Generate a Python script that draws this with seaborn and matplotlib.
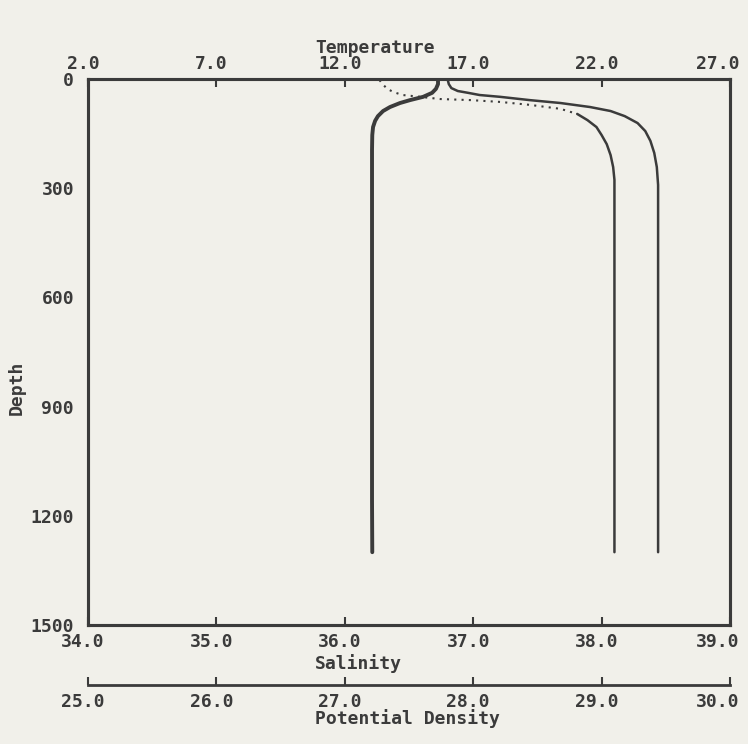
import matplotlib
matplotlib.use("Agg")
import matplotlib.pyplot as plt
import matplotlib.transforms as mtransforms
import seaborn as sns

# profile (depth in m)
temp_depth = [0, 14, 27, 38, 49, 58, 66, 77, 88, 102, 115, 132, 154, 195,
              332, 607, 882, 1157, 1300]
temperature = [15.63, 15.63, 15.55, 15.40, 15.05, 14.54, 14.15, 13.76, 13.49, 13.29,
               13.18, 13.10, 13.07, 13.06, 13.06, 13.06, 13.06, 13.06, 13.07]

sal_depth = [0, 14, 25, 33, 38, 44, 49, 58, 66, 77, 88, 102, 121, 143, 170, 203,
             242, 291, 387, 607, 882, 1157, 1300]
salinity = [36.80, 36.81, 36.83, 36.88, 36.96, 37.05, 37.21, 37.44, 37.68, 37.91,
            38.07, 38.18, 38.28, 38.34, 38.38, 38.41, 38.43, 38.44, 38.44, 38.44,
            38.44, 38.44, 38.44]

dens_depth_upper = [3, 16, 27, 36, 44, 49, 55, 58, 63, 71, 82, 96]
density_upper = [27.27, 27.30, 27.33, 27.38, 27.45, 27.59, 27.74, 27.98, 28.21,
                 28.44, 28.68, 28.81]
dens_depth_lower = [96, 113, 132, 154, 179, 209, 242, 277, 332, 607, 882, 1157, 1300]
density_lower = [28.81, 28.89, 28.96, 29.00, 29.04, 29.07, 29.09, 29.10, 29.10,
                 29.10, 29.10, 29.10, 29.10]

depth_ticks = [0, 300, 600, 900, 1200, 1500]
sal_ticks = [34.0, 35.0, 36.0, 37.0, 38.0, 39.0]
temp_ticks = [2.0, 7.0, 12.0, 17.0, 22.0, 27.0]
dens_ticks = [25.0, 26.0, 27.0, 28.0, 29.0, 30.0]

sns.set_style("white")
plt.rcParams["font.family"] = ["DejaVu Sans Mono"]
plt.rcParams["font.weight"] = "bold"

bg = "#f1f0ea"
ink = "#3b3b3b"
fs = 13

fig = plt.figure(figsize=(7.48, 7.44), dpi=100, facecolor=bg)
ax = fig.add_axes([88 / 748, 1 - 625 / 744, 642 / 748, 546 / 744])
ax.set_facecolor(bg)

# salinity on the main axes
sns.lineplot(x=salinity, y=sal_depth, sort=False, estimator=None, ax=ax,
             color=ink, linewidth=1.8)
ax.set_xlim(34, 39)
ax.set_ylim(1500, 0)
ax.set_xticks(sal_ticks)
ax.set_xticklabels([f"{v:.1f}" for v in sal_ticks])
ax.set_yticks(depth_ticks)
ax.set_yticklabels([str(v) for v in depth_ticks])

# temperature on top axis
ax_t = ax.twiny()
sns.lineplot(x=temperature, y=temp_depth, sort=False, estimator=None, ax=ax_t,
             color=ink, linewidth=2.8)
ax_t.set_xlim(2, 27)
ax_t.set_xticks(temp_ticks)
ax_t.set_xticklabels([f"{v:.1f}" for v in temp_ticks])

# potential density on a detached bottom axis
ax_d = ax.twiny()
sns.lineplot(x=density_upper, y=dens_depth_upper, sort=False, estimator=None, ax=ax_d,
             color=ink, linewidth=1.5, linestyle=(0, (1, 2.5)))
sns.lineplot(x=density_lower, y=dens_depth_lower, sort=False, estimator=None, ax=ax_d,
             color=ink, linewidth=1.8)
ax_d.set_xlim(25, 30)
ax_d.xaxis.set_ticks_position("bottom")
ax_d.xaxis.set_label_position("bottom")
ax_d.set_xticks(dens_ticks)
ax_d.set_xticklabels([f"{v:.1f}" for v in dens_ticks])
for side in ["top", "left", "right"]:
    ax_d.spines[side].set_visible(False)
ax_d.spines["bottom"].set_position(("outward", 43))
ax_d.spines["bottom"].set_color(ink)
ax_d.spines["bottom"].set_linewidth(2.0)

for a in [ax, ax_t]:
    for s in a.spines.values():
        s.set_color(ink)
        s.set_linewidth(2.2)

ax.tick_params(axis="x", direction="in", length=6, width=1.5, colors=ink,
               labelsize=fs, pad=6)
ax.tick_params(axis="y", direction="in", length=6, width=1.5, colors=ink,
               labelsize=fs, pad=10)
ax_t.tick_params(axis="x", direction="in", length=6, width=1.5, colors=ink,
                 labelsize=fs, pad=4)
ax_d.tick_params(axis="x", direction="in", length=6, width=1.5, colors=ink,
                 labelsize=fs, pad=6)

# plotter labels sit a little left of their ticks
shift = mtransforms.ScaledTranslation(-5 / 100, 0, fig.dpi_scale_trans)
shift_end = mtransforms.ScaledTranslation(-12 / 100, 0, fig.dpi_scale_trans)
for a in [ax, ax_t, ax_d]:
    a.set_xlabel("")
    a.set_ylabel("")
    labels = a.get_xticklabels()
    for i, lab in enumerate(labels):
        lab.set_fontweight("bold")
        lab.set_transform(lab.get_transform() + (shift_end if i == len(labels) - 1 else shift))
    for lab in a.get_yticklabels():
        lab.set_fontweight("bold")

ax.text(0.354, 1.057, "Temperature", transform=ax.transAxes, ha="left", va="center",
        fontsize=fs, fontweight="bold", color=ink)
ax.text(0.354, -0.071, "Salinity", transform=ax.transAxes, ha="left", va="center",
        fontsize=fs, fontweight="bold", color=ink)
ax.text(0.354, -0.172, "Potential Density", transform=ax.transAxes, ha="left", va="center",
        fontsize=fs, fontweight="bold", color=ink)
ax.text(-0.111, 0.434, "Depth", transform=ax.transAxes, ha="center", va="center",
        rotation=90, fontsize=fs, fontweight="bold", color=ink)

fig.savefig("out.png", dpi=100, facecolor=bg)
